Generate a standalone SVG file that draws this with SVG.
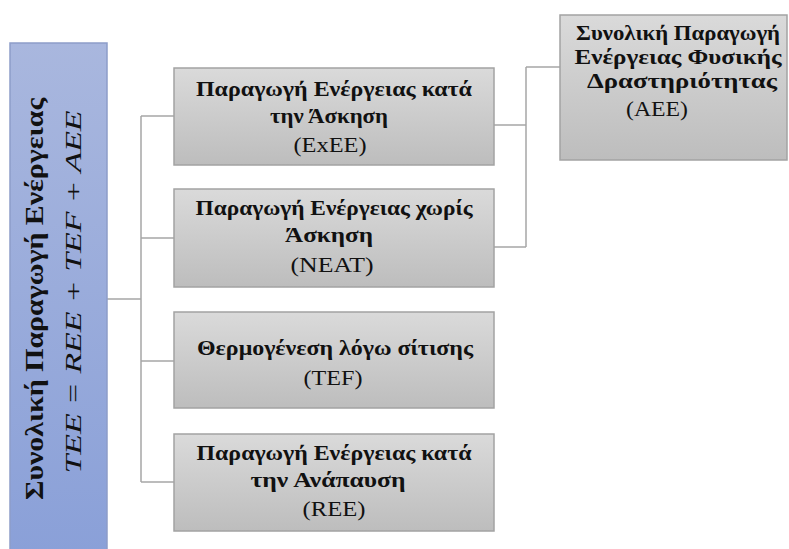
<svg xmlns="http://www.w3.org/2000/svg" width="789" height="549" viewBox="0 0 789 549">
<defs>
<linearGradient id="gGray" x1="0" y1="0" x2="0" y2="1">
<stop offset="0" stop-color="#dadada"/>
<stop offset="1" stop-color="#bdbdbd"/>
</linearGradient>
<linearGradient id="gBlue" x1="0" y1="0" x2="0" y2="1">
<stop offset="0" stop-color="#a9b7de"/>
<stop offset="1" stop-color="#8aa0d8"/>
</linearGradient>
</defs>
<style>
.box{fill:url(#gGray);stroke:#a3a3a3;stroke-width:1.5}
.blue{fill:url(#gBlue);stroke:#8d9dc9;stroke-width:1.5}
.b{font-family:"Liberation Serif","Times New Roman",serif;font-weight:bold;font-size:21px;fill:#111;text-anchor:middle}
.r{font-family:"Liberation Serif","Times New Roman",serif;font-size:21px;fill:#111;text-anchor:middle}
.conn{fill:none;stroke:#a6a6a6;stroke-width:1.5}
</style>
<rect width="789" height="549" fill="#fff"/>
<g id="connectors">
<path class="conn" d="M107,299 H141 M141,116 V482 M141,116 H174 M141,238 H174 M141,361 H174 M141,482 H174"/>
<path class="conn" d="M494,125 H526 M494,247 H526 M526,67 V247 M526,67 H560"/>
</g>
<g id="tee">
<rect class="blue" x="10" y="43" width="97" height="510"/>
<text class="b" style="font-size:26px" transform="translate(43,299) rotate(-90)" x="0" y="0" textLength="402" lengthAdjust="spacingAndGlyphs">Συνολική Παραγωγή Ενέργειας</text>
<text class="r" style="font-size:24px;font-style:italic" transform="translate(81,292) rotate(-90)" x="0" y="0" textLength="363" lengthAdjust="spacingAndGlyphs">TEE = REE + TEF + AEE</text>
</g>
<g id="exee">
<rect class="box" x="174" y="68" width="320" height="97"/>
<text class="b" x="334" y="96" textLength="276" lengthAdjust="spacingAndGlyphs">Παραγωγή Ενέργειας κατά</text>
<text class="b" x="329" y="123" textLength="118" lengthAdjust="spacingAndGlyphs">την Άσκηση</text>
<text class="r" x="330" y="152" textLength="73" lengthAdjust="spacingAndGlyphs">(ExEE)</text>
</g>
<g id="neat">
<rect class="box" x="174" y="189" width="320" height="98"/>
<text class="b" x="334" y="215" textLength="277" lengthAdjust="spacingAndGlyphs">Παραγωγή Ενέργειας χωρίς</text>
<text class="b" x="329" y="242" textLength="88" lengthAdjust="spacingAndGlyphs">Άσκηση</text>
<text class="r" x="332" y="272" textLength="83" lengthAdjust="spacingAndGlyphs">(NEAT)</text>
</g>
<g id="tef">
<rect class="box" x="174" y="312" width="320" height="96"/>
<text class="b" x="335" y="355" textLength="276" lengthAdjust="spacingAndGlyphs">Θερμογένεση λόγω σίτισης</text>
<text class="r" x="333" y="385" textLength="59" lengthAdjust="spacingAndGlyphs">(TEF)</text>
</g>
<g id="ree">
<rect class="box" x="174" y="434" width="320" height="97"/>
<text class="b" x="334" y="460" textLength="275" lengthAdjust="spacingAndGlyphs">Παραγωγή Ενέργειας κατά</text>
<text class="b" x="328" y="487" textLength="155" lengthAdjust="spacingAndGlyphs">την Ανάπαυση</text>
<text class="r" x="334" y="516" textLength="63" lengthAdjust="spacingAndGlyphs">(REE)</text>
</g>
<g id="aee">
<rect class="box" x="560" y="15" width="227" height="145"/>
<text class="b" x="678" y="40" textLength="204" lengthAdjust="spacingAndGlyphs">Συνολική Παραγωγή</text>
<text class="b" x="678" y="64" textLength="207" lengthAdjust="spacingAndGlyphs">Ενέργειας Φυσικής</text>
<text class="b" x="682" y="88" textLength="190" lengthAdjust="spacingAndGlyphs">Δραστηριότητας</text>
<text class="r" x="657" y="116" textLength="62" lengthAdjust="spacingAndGlyphs">(AEE)</text>
</g>
</svg>
